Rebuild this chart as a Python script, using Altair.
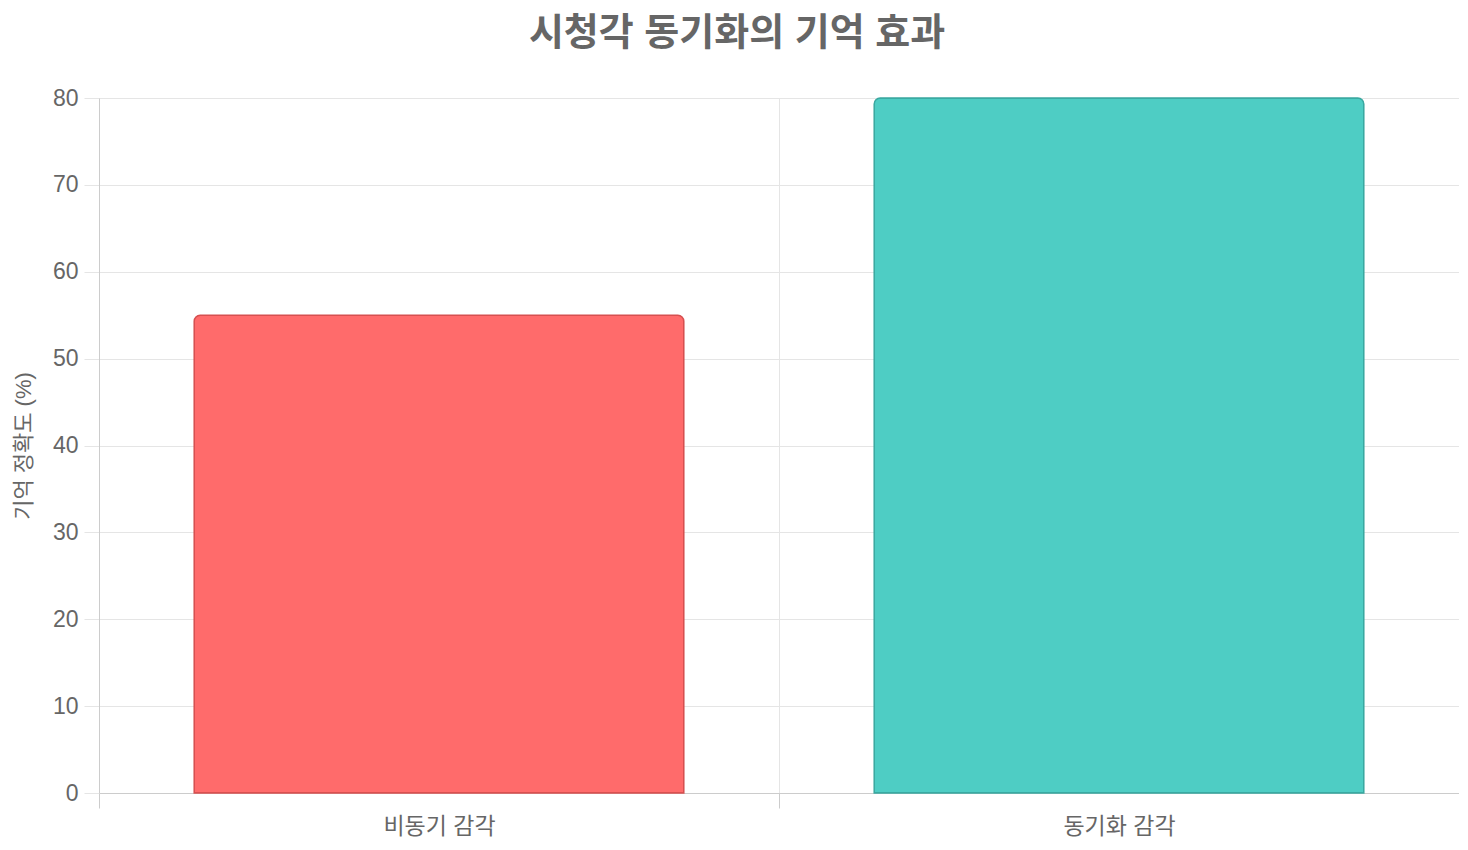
import altair as alt
import pandas as pd

categories = ["비동기 감각", "동기화 감각"]
values = [55, 80]
fill_colors = ["#FF6B6B", "#4ECDC4"]
stroke_colors = ["#D65050", "#3AA8A0"]
y_ticks = [0, 10, 20, 30, 40, 50, 60, 70, 80]

df = pd.DataFrame({"category": categories, "value": values})

FONT = '"Liberation Sans", "Noto Sans CJK KR", sans-serif'
TEXT = "#666666"

chart = (
    alt.Chart(df)
    .mark_bar(
        strokeWidth=1.5,
        cornerRadiusTopLeft=6,
        cornerRadiusTopRight=6,
        width=alt.RelativeBandSize(0.72),
    )
    .encode(
        x=alt.X(
            "category:N",
            sort=categories,
            title=None,
            scale=alt.Scale(paddingInner=0, paddingOuter=0),
            axis=alt.Axis(
                labelAngle=0,
                tickBand="extent",
                grid=True,
                gridColor="#e5e5e5",
                domainColor="#cccccc",
                tickColor="#cccccc",
                tickSize=15,
                labelFontSize=23,
                labelColor=TEXT,
                labelFont=FONT,
                labelPadding=7,
            ),
        ),
        y=alt.Y(
            "value:Q",
            title="기억 정확도 (%)",
            scale=alt.Scale(domain=[0, 80], nice=False),
            axis=alt.Axis(
                values=y_ticks,
                grid=True,
                gridColor="#e5e5e5",
                domainColor="#cccccc",
                tickColor="#e5e5e5",
                tickSize=15,
                labelFontSize=23,
                labelColor=TEXT,
                labelFont=FONT,
                labelPadding=6,
                titleFont=FONT,
                titleFontSize=22,
                titleFontWeight="normal",
                titleColor=TEXT,
                titlePadding=17,
            ),
        ),
        fill=alt.Fill("category:N", scale=alt.Scale(domain=categories, range=fill_colors), legend=None),
        stroke=alt.Stroke("category:N", scale=alt.Scale(domain=categories, range=stroke_colors), legend=None),
    )
    .properties(
        width=1360,
        height=695,
        title=alt.TitleParams(
            text="시청각 동기화의 기억 효과",
            font=FONT,
            fontSize=38,
            fontWeight="bold",
            color=TEXT,
            anchor="middle",
            dx=-42,
            offset=34,
        ),
        autosize=alt.AutoSizeParams(type="none"),
        padding={"left": 91, "top": 90, "right": 0, "bottom": 50},
    )
    .configure_view(stroke=None)
    .configure(background="white")
)

chart.save("out.html", embed_options={"renderer": "svg", "actions": False})
